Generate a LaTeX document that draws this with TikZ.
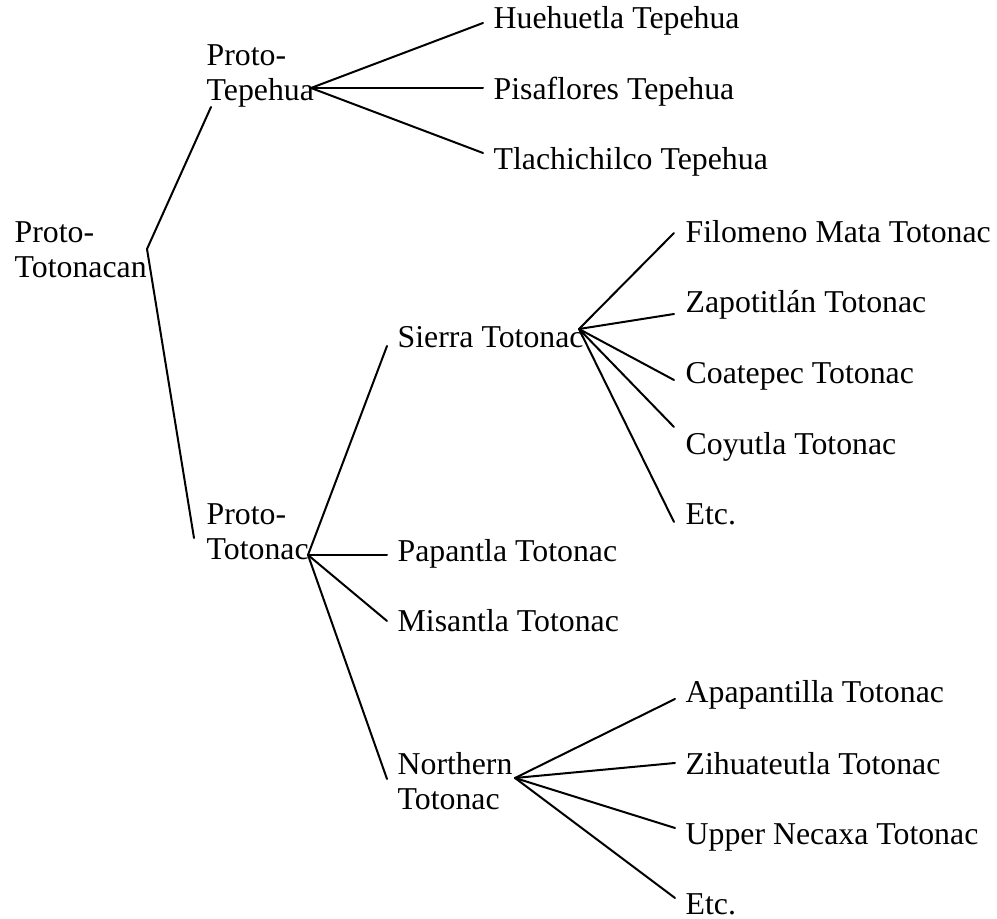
\documentclass[tikz,border=0pt]{standalone}
\usepackage{fontspec}
\setmainfont{Liberation Serif}
\begin{document}
\begin{tikzpicture}[x=0.3pt,y=-0.3pt,
  lang/.style={anchor=base west,inner sep=0pt,font=\fontsize{9.54}{10.4}\selectfont},
  branch/.style={line width=0.6pt,line cap=round,line join=round}]
\useasboundingbox (0,0) rectangle (997,919);
\newcommand{\twolines}[2]{\begin{tabular}[t]{@{}l@{}}#1\\#2\end{tabular}}

% labels
\node[lang] (root) at (14,243) {\twolines{Proto-}{Totonacan}};
\node[lang] (tep) at (206,66) {\twolines{Proto-}{Tepehua}};
\node[lang] (hue) at (493,29) {Huehuetla Tepehua};
\node[lang] (pis) at (493,100) {Pisaflores Tepehua};
\node[lang] (tla) at (493,170) {Tlachichilco Tepehua};
\node[lang] (tot) at (206,525) {\twolines{Proto-}{Totonac}};
\node[lang] (sie) at (397,348) {Sierra Totonac};
\node[lang] (fil) at (685,243) {Filomeno Mata Totonac};
\node[lang] (zap) at (685,313) {Zapotitlán Totonac};
\node[lang] (coa) at (685,384) {Coatepec Totonac};
\node[lang] (coy) at (685,455) {Coyutla Totonac};
\node[lang] (setc) at (685,525) {Etc.};
\node[lang] (pap) at (397,562) {Papantla Totonac};
\node[lang] (mis) at (397,632) {Misantla Totonac};
\node[lang] (nor) at (397,775) {\twolines{Northern}{Totonac}};
\node[lang] (apa) at (685,703) {Apapantilla Totonac};
\node[lang] (zih) at (685,775) {Zihuateutla Totonac};
\node[lang] (upp) at (685,845) {Upper Necaxa Totonac};
\node[lang] (netc) at (685,915) {Etc.};

% branch points and line ends
\coordinate (rootJ) at (147,249);
\coordinate (tepIn) at (211,107);
\coordinate (tepJ) at (311,88);
\coordinate (hueIn) at (483,23);
\coordinate (pisIn) at (483,88);
\coordinate (tlaIn) at (483,153);
\coordinate (totIn) at (194,538);
\coordinate (totJ) at (308,555);
\coordinate (sieIn) at (387,346);
\coordinate (sieJ) at (579,329);
\coordinate (filIn) at (674,233);
\coordinate (zapIn) at (674,314);
\coordinate (coaIn) at (674,380);
\coordinate (coyIn) at (674,427);
\coordinate (setcIn) at (674,522);
\coordinate (papIn) at (387,555);
\coordinate (misIn) at (387,621);
\coordinate (norIn) at (387,779);
\coordinate (norJ) at (515,778);
\coordinate (apaIn) at (675,699);
\coordinate (zihIn) at (675,763);
\coordinate (uppIn) at (675,828);
\coordinate (netcIn) at (675,898);

% tree lines
\draw[branch] (tepIn) -- (rootJ) -- (totIn);
\draw[branch] (tepJ) -- (hueIn);
\draw[branch] (tepJ) -- (pisIn);
\draw[branch] (tepJ) -- (tlaIn);
\draw[branch] (totJ) -- (sieIn);
\draw[branch] (totJ) -- (papIn);
\draw[branch] (totJ) -- (misIn);
\draw[branch] (totJ) -- (norIn);
\draw[branch] (sieJ) -- (filIn);
\draw[branch] (sieJ) -- (zapIn);
\draw[branch] (sieJ) -- (coaIn);
\draw[branch] (sieJ) -- (coyIn);
\draw[branch] (sieJ) -- (setcIn);
\draw[branch] (norJ) -- (apaIn);
\draw[branch] (norJ) -- (zihIn);
\draw[branch] (norJ) -- (uppIn);
\draw[branch] (norJ) -- (netcIn);
\end{tikzpicture}
\end{document}
